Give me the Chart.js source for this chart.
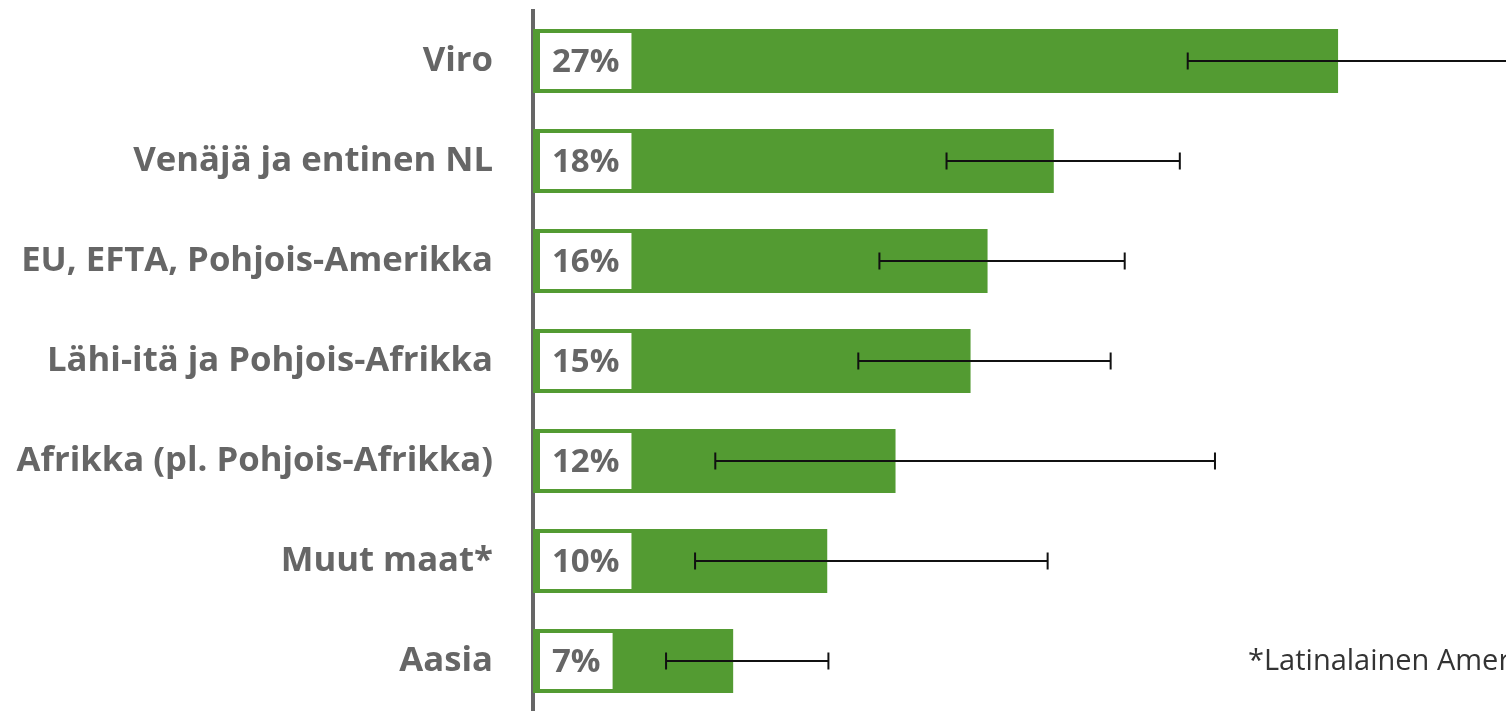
<!DOCTYPE html>
<html>
<head>
<meta charset="utf-8">
<script src="https://cdn.jsdelivr.net/npm/chart.js@4/dist/chart.umd.min.js"></script>
<style>
  html, body { margin: 0; padding: 0; background: #fff; overflow: hidden; }
  #wrap { width: 1506px; height: 711px; position: relative; }
</style>
</head>
<body>
<div id="wrap"><canvas id="c" width="1506" height="711"></canvas></div>
<script>
const categories = ["Viro", "Venäjä ja entinen NL", "EU, EFTA, Pohjois-Amerikka", "Lähi-itä ja Pohjois-Afrikka", "Afrikka (pl. Pohjois-Afrikka)", "Muut maat*", "Aasia"];
const values = [27.47, 17.77, 15.51, 14.93, 12.37, 10.04, 6.83];
const valueLabels = ["27%", "18%", "16%", "15%", "12%", "10%", "7%"];
const errLow = [22.34, 14.11, 11.82, 11.10, 6.22, 5.53, 4.54];
const errHigh = [34.5, 22.07, 20.19, 19.71, 23.27, 17.56, 10.08];
const footnote = "*Latinalainen Amerikka";

const GREEN = "#539b32";
const GRAY = "#666666";

const overlayPlugin = {
  id: "overlay",
  afterDatasetsDraw(chart) {
    const ctx = chart.ctx;
    const meta = chart.getDatasetMeta(0);
    const xs = chart.scales.x;
    ctx.save();
    meta.data.forEach((bar, i) => {
      const top = bar.y - bar.height / 2;
      // white value label box
      ctx.font = "bold 33px 'Open Sans'";
      const tw = ctx.measureText(valueLabels[i]).width;
      const bx = bar.base + 7;
      const bw = tw + 24;
      ctx.fillStyle = "#ffffff";
      ctx.fillRect(bx, top + 4, bw, bar.height - 8);
      ctx.fillStyle = GRAY;
      ctx.textBaseline = "middle";
      ctx.textAlign = "left";
      ctx.fillText(valueLabels[i], bx + 12, bar.y + 2);
      // error bar
      const x1 = xs.getPixelForValue(errLow[i]);
      const x2 = xs.getPixelForValue(errHigh[i]);
      ctx.strokeStyle = "#111111";
      ctx.lineWidth = 2;
      ctx.beginPath();
      ctx.moveTo(x1, bar.y);
      ctx.lineTo(x2, bar.y);
      ctx.moveTo(x1, bar.y - 8.5);
      ctx.lineTo(x1, bar.y + 8.5);
      ctx.moveTo(x2, bar.y - 8.5);
      ctx.lineTo(x2, bar.y + 8.5);
      ctx.stroke();
    });
    // footnote
    ctx.font = "29px 'Open Sans'";
    ctx.fillStyle = "#333333";
    ctx.textAlign = "left";
    ctx.textBaseline = "alphabetic";
    ctx.fillText(footnote, 1248, 670);
    ctx.restore();
  }
};

new Chart(document.getElementById("c"), {
  type: "bar",
  data: {
    labels: categories,
    datasets: [{
      data: values,
      backgroundColor: GREEN,
      borderWidth: 0,
      barPercentage: 0.8,
      categoryPercentage: 0.8
    }]
  },
  options: {
    indexAxis: "y",
    responsive: false,
    animation: false,
    layout: { padding: { top: 11, left: 0, right: 0, bottom: 0 } },
    plugins: { legend: { display: false }, tooltip: { enabled: false } },
    scales: {
      x: {
        display: false,
        min: 0,
        max: 33.2
      },
      y: {
        afterFit(scale) { scale.width = 533; scale.paddingTop = 0; scale.paddingBottom = 0; },
        grid: { display: false, drawTicks: false },
        border: { display: true, color: GRAY, width: 4 },
        ticks: {
          color: GRAY,
          font: { family: "'Open Sans'", weight: "bold", size: 34.7 },
          padding: 40
        }
      }
    }
  },
  plugins: [overlayPlugin]
});
</script>
</body>
</html>
